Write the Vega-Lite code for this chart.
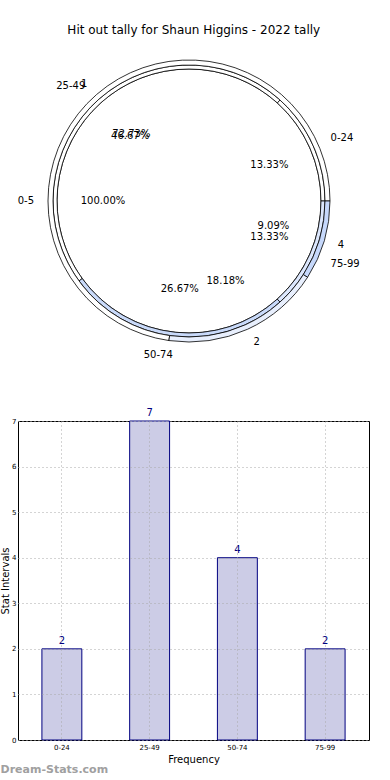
{
  "$schema": "https://vega.github.io/schema/vega-lite/v6.json",
  "padding": {"top": 24, "left": 0, "right": 0, "bottom": 0},
  "background": "white",
  "title": {"text": "Hit out tally for Shaun Higgins - 2022 tally", "fontSize": 12, "fontWeight": "normal", "font": "DejaVu Sans", "anchor": "middle", "offset": 9, "color": "black", "dx": 9},
  "config": {"font": "DejaVu Sans", "view": {"stroke": null}},
  "spacing": 46,
  "datasets": {
    "inner": [{"label": "0-5", "v": 1, "pct": "100.00%"}],
    "middle": [
      {"label": "0-24", "v": 2, "pct": "13.33%"},
      {"label": "25-49", "v": 7, "pct": "46.67%"},
      {"label": "50-74", "v": 4, "pct": "26.67%"},
      {"label": "75-99", "v": 2, "pct": "13.33%"}
    ],
    "outer": [
      {"label": "1", "v": 8, "pct": "72.73%"},
      {"label": "2", "v": 2, "pct": "18.18%"},
      {"label": "4", "v": 1, "pct": "9.09%"}
    ],
    "bars": [
      {"interval": "0-24", "count": 2},
      {"interval": "25-49", "count": 7},
      {"interval": "50-74", "count": 4},
      {"interval": "75-99", "count": 2}
    ]
  },
  "vconcat": [
    {
      "width": 342,
      "height": 310,
      "encoding": {
        "theta": {"field": "v", "type": "quantitative", "stack": "normalize", "scale": {"domain": [0, 1], "range": [1.5708, -4.7124]}},
        "order": {"field": "label", "type": "ordinal", "sort": "ascending"},
        "detail": {"field": "label", "type": "nominal"}
      },
      "layer": [
        {
          "data": {"name": "inner"},
          "mark": {"type": "arc", "innerRadius": 0, "outerRadius": 132, "stroke": "black", "strokeWidth": 0.8},
          "encoding": {"color": {"field": "label", "type": "nominal", "legend": null, "scale": {"domain": ["0-5", "0-24", "25-49", "50-74", "75-99", "1", "2", "4"], "range": ["#ffffff", "#ffffff", "#ffffff", "#c9dafa", "#dce7fd", "#ffffff", "#e8effd", "#c6d8fb"]}}}
        },
        {
          "data": {"name": "middle"},
          "mark": {"type": "arc", "innerRadius": 132, "outerRadius": 136, "stroke": "black", "strokeWidth": 0.8},
          "encoding": {"color": {"field": "label", "type": "nominal", "legend": null}}
        },
        {
          "data": {"name": "outer"},
          "mark": {"type": "arc", "innerRadius": 136, "outerRadius": 141, "stroke": "black", "strokeWidth": 0.8},
          "encoding": {"color": {"field": "label", "type": "nominal", "legend": null}}
        },
        {
          "data": {"name": "inner"},
          "mark": {"type": "text", "radius": 155, "fontSize": 10, "baseline": "middle", "color": "black", "align": {"expr": "indexof(['0-5','25-49','50-74','1'], datum.label) >= 0 ? 'right' : 'left'"}},
          "encoding": {"text": {"field": "label"}}
        },
        {
          "data": {"name": "middle"},
          "mark": {"type": "text", "radius": 155, "fontSize": 10, "baseline": "middle", "color": "black", "align": {"expr": "indexof(['0-5','25-49','50-74','1'], datum.label) >= 0 ? 'right' : 'left'"}},
          "encoding": {"text": {"field": "label"}}
        },
        {
          "data": {"name": "outer"},
          "mark": {"type": "text", "radius": 155, "fontSize": 10, "baseline": "middle", "color": "black", "align": {"expr": "indexof(['0-5','25-49','50-74','1'], datum.label) >= 0 ? 'right' : 'left'"}},
          "encoding": {"text": {"field": "label"}}
        },
        {
          "data": {"name": "inner"},
          "mark": {"type": "text", "radius": 86, "fontSize": 10, "baseline": "middle", "align": "center", "color": "black"},
          "encoding": {"text": {"field": "pct"}}
        },
        {
          "data": {"name": "middle"},
          "mark": {"type": "text", "radius": 88, "fontSize": 10, "baseline": "middle", "align": "center", "color": "black"},
          "encoding": {"text": {"field": "pct"}}
        },
        {
          "data": {"name": "outer"},
          "mark": {"type": "text", "radius": 88, "fontSize": 10, "baseline": "middle", "align": "center", "color": "black"},
          "encoding": {"text": {"field": "pct"}}
        }
      ]
    },
    {
      "width": 351,
      "height": 319,
      "view": {"stroke": "black", "strokeWidth": 1},
      "title": {"text": "Dream-Stats.com", "orient": "bottom", "anchor": "start", "frame": "bounds", "fontSize": 11, "fontWeight": "bold", "color": "#a0a0a0", "offset": 0},
      "data": {"name": "bars"},
      "encoding": {
        "x": {"field": "interval", "type": "nominal", "sort": null, "scale": {"paddingInner": 0.545, "paddingOuter": 0.2725},
          "axis": {"title": "Frequency", "titleFontSize": 10, "titleFontWeight": "normal", "titleColor": "black", "titlePadding": 4, "labelAngle": 0, "labelFontSize": 7, "labelColor": "black", "labelPadding": 3, "domain": false, "ticks": false, "grid": true, "gridColor": "#a8a8a8", "gridDash": [1, 3], "gridWidth": 1, "zindex": 1}},
        "y": {"field": "count", "type": "quantitative", "scale": {"domain": [0, 7], "nice": false},
          "axis": {"title": "Stat Intervals", "titleFontSize": 10, "titleFontWeight": "normal", "titleColor": "black", "titlePadding": 1, "values": [0, 1, 2, 3, 4, 5, 6, 7], "format": "d", "labelFontSize": 7, "labelColor": "black", "labelPadding": 2, "ticks": false, "domain": false, "grid": true, "gridColor": "#a8a8a8", "gridDash": [1, 3], "gridWidth": 1, "zindex": 1}}
      },
      "layer": [
        {"mark": {"type": "bar", "fill": "#ccccE6", "stroke": "#000080", "strokeWidth": 1}},
        {"mark": {"type": "text", "dy": -3, "baseline": "bottom", "color": "#000080", "fontSize": 10}, "encoding": {"text": {"field": "count", "type": "quantitative"}}}
      ]
    }
  ]
}
